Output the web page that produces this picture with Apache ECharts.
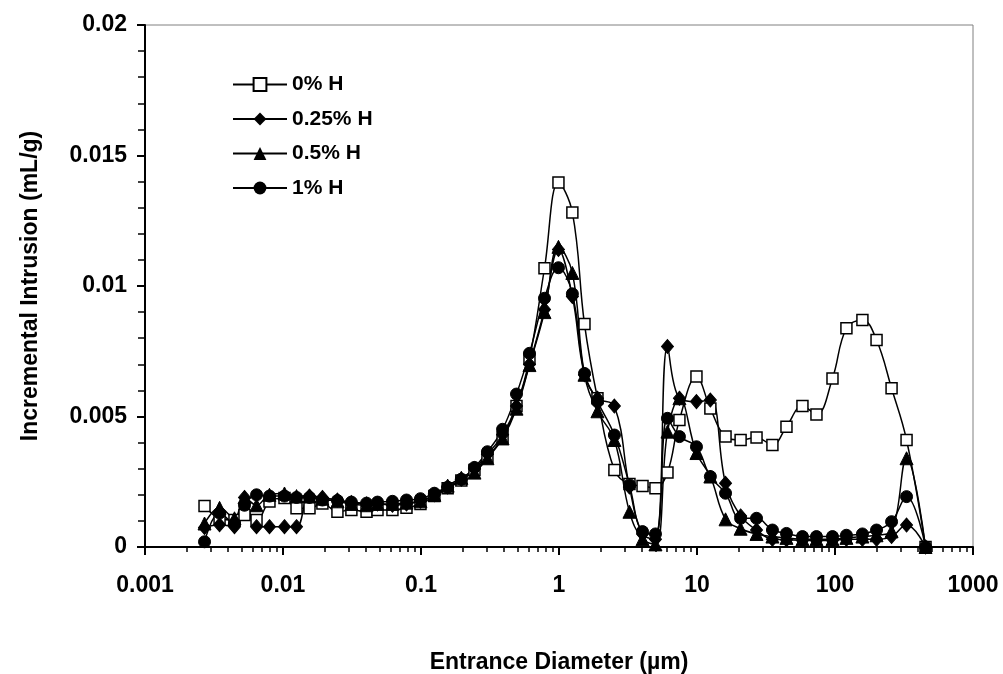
<!DOCTYPE html>
<html>
<head>
<meta charset="utf-8">
<script src="https://cdn.jsdelivr.net/npm/echarts@6/dist/echarts.min.js"></script>
<style>html,body{margin:0;padding:0;background:#fff}#c{width:1003px;height:674px}</style>
</head>
<body>
<div id="c"></div>
<script>
// Entrance diameter (µm), shared by all series
const diameters = [0.00270,0.00347,0.00445,0.00526,0.00643,0.00798,0.01025,0.01253,0.01556,0.0193,
  0.0248,0.0313,0.0403,0.0484,0.0621,0.0785,0.0991,0.125,0.156,0.196,
  0.244,0.303,0.390,0.492,0.611,0.785,0.991,1.25,1.53,1.90,
  2.52,3.24,4.03,5.00,6.11,7.46,9.91,12.5,16.1,20.7,
  27.0,35.2,44.5,58.1,73.4,95.9,121,158,200,257,330,453];

const h0 = [0.00157,0.00110,0.00103,0.00123,0.00103,0.00174,0.00188,0.00148,0.00148,0.00167,
  0.00135,0.00142,0.00135,0.00142,0.00142,0.00150,0.00165,0.00195,0.00225,0.00255,
  0.00295,0.00345,0.00420,0.00540,0.00720,0.01068,0.01397,0.01282,0.00854,0.00570,
  0.00295,0.00241,0.00234,0.00225,0.00285,0.00487,0.00653,0.00531,0.00423,0.00410,
  0.00420,0.00391,0.00461,0.00540,0.00508,0.00646,0.00838,0.00870,0.00793,0.00608,0.00410,0];

const h025 = [0.00075,0.00085,0.00078,0.00190,0.00078,0.00078,0.00078,0.00078,0.00195,0.00190,
  0.00180,0.00170,0.00165,0.00165,0.00160,0.00165,0.00175,0.00200,0.00230,0.00260,
  0.00300,0.00355,0.00430,0.00540,0.00700,0.00910,0.01140,0.00960,0.00660,0.00570,
  0.00540,0.00230,0.00050,0.00030,0.00768,0.00570,0.00557,0.00563,0.00244,0.00119,
  0.00065,0.00030,0.00028,0.00025,0.00025,0.00025,0.00030,0.00030,0.00030,0.00040,0.00084,0];

const h05 = [0.00090,0.00150,0.00110,0.00190,0.00160,0.00200,0.00205,0.00195,0.00195,0.00185,
  0.00175,0.00165,0.00160,0.00165,0.00165,0.00170,0.00175,0.00200,0.00235,0.00265,
  0.00285,0.00340,0.00416,0.00530,0.00697,0.00900,0.01150,0.01050,0.00660,0.00520,
  0.00410,0.00135,0.00030,0.00010,0.00442,0.00570,0.00360,0.00270,0.00106,0.00070,
  0.00050,0.00040,0.00035,0.00030,0.00030,0.00030,0.00035,0.00040,0.00045,0.00060,0.00340,0];

const h1 = [0.00020,0.00130,0.00090,0.00160,0.00200,0.00195,0.00195,0.00190,0.00190,0.00180,
  0.00178,0.00172,0.00168,0.00172,0.00175,0.00180,0.00185,0.00206,0.00229,0.00260,
  0.00305,0.00365,0.00451,0.00586,0.00742,0.00953,0.01070,0.00970,0.00665,0.00557,
  0.00429,0.00238,0.00059,0.00050,0.00493,0.00423,0.00384,0.00270,0.00206,0.00110,
  0.00110,0.00065,0.00052,0.00040,0.00040,0.00040,0.00045,0.00050,0.00065,0.00097,0.00193,0];

const seriesNames = ['0% H','0.25% H','0.5% H','1% H'];
const minorX = [];
for (let e = -3; e < 3; e++) for (let k = 2; k <= 9; k++) minorX.push(e + Math.log10(k));

const font = 'Liberation Sans, Arial, sans-serif';
function pairs(ys){ return diameters.map((d,i)=>[d, ys[i]]); }

const chart = echarts.init(document.getElementById('c'), null, {renderer:'canvas'});
const common = {type:'line', smooth:0.4, lineStyle:{color:'#000', width:1.5}, itemStyle:{color:'#000', borderColor:'#000'}, emphasis:{disabled:true}, z:2};
chart.setOption({
  animation:false,
  backgroundColor:'#fff',
  grid:{left:145, right:30, top:25, bottom:127, show:true, borderColor:'#808080', borderWidth:1,
    containLabel:false, outerBoundsMode:'none'},
  legend:{
    orient:'vertical', left:232, top:74, padding:0, itemWidth:54, itemHeight:16, itemGap:13.5,
    textStyle:{fontFamily:font, fontWeight:'bold', fontSize:21, color:'#000'},
    data:seriesNames
  },
  xAxis:[{
    type:'log', logBase:10, min:0.001, max:1000,
    name:'Entrance Diameter (µm)', nameLocation:'middle', nameGap:104,
    nameTextStyle:{fontFamily:font, fontWeight:'bold', fontSize:23, color:'#000'},
    axisLine:{onZero:false, lineStyle:{color:'#000', width:2}},
    axisTick:{inside:false, length:8, lineStyle:{color:'#000', width:2}},
    axisLabel:{fontFamily:font, fontWeight:'bold', fontSize:23, color:'#000', margin:27,
      formatter:v=>String(v)},
    splitLine:{show:false}
  },{
    type:'value', min:-3, max:3, position:'bottom',
    axisLine:{show:false, onZero:false}, axisLabel:{show:false}, splitLine:{show:false},
    axisTick:{show:true, customValues:minorX, length:5, lineStyle:{color:'#000', width:1.5}}
  }],
  yAxis:{
    type:'value', min:0, max:0.02, interval:0.005,
    name:'Incremental Intrusion (mL/g)', nameLocation:'middle', nameGap:103,
    nameTextStyle:{fontFamily:font, fontWeight:'bold', fontSize:23, color:'#000'},
    axisLine:{onZero:false, lineStyle:{color:'#000', width:2}},
    axisTick:{length:8, lineStyle:{color:'#000', width:2}},
    minorTick:{show:true, splitNumber:5, length:7, lineStyle:{color:'#000', width:1.5}},
    axisLabel:{fontFamily:font, fontWeight:'bold', fontSize:23, color:'#000', margin:18,
      formatter:v=>String(v)},
    splitLine:{show:false}, minorSplitLine:{show:false}
  },
  series:[
    Object.assign({}, common, {name:seriesNames[0], data:pairs(h0), symbol:'rect', symbolSize:11,
      itemStyle:{color:'#fff', borderColor:'#000', borderWidth:1.5}}),
    Object.assign({}, common, {name:seriesNames[1], data:pairs(h025), symbol:'diamond', symbolSize:[12,14]}),
    Object.assign({}, common, {name:seriesNames[2], data:pairs(h05), symbol:'triangle', symbolSize:13}),
    Object.assign({}, common, {name:seriesNames[3], data:pairs(h1), symbol:'circle', symbolSize:12})
  ]
});
</script>
</body>
</html>
